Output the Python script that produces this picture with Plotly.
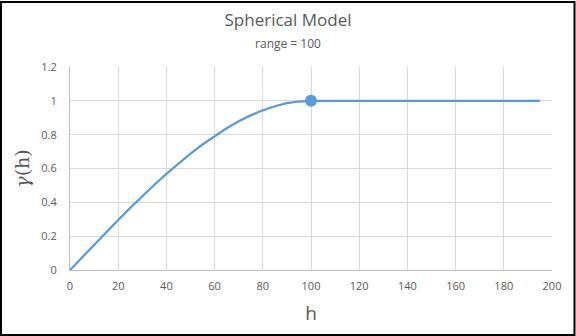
import plotly.graph_objects as go

# Spherical semivariogram, range = 100, sill = 1
lag_h = [0, 5, 10, 15, 20, 25, 30, 35, 40, 45, 50, 55, 60, 65, 70, 75, 80, 85, 90, 95, 100, 195]
gamma = [0, 0.075, 0.150, 0.223, 0.296, 0.367, 0.437, 0.504, 0.568, 0.629, 0.688, 0.742,
         0.792, 0.838, 0.879, 0.914, 0.944, 0.968, 0.986, 0.996, 1.0, 1.0]

range_h = [100]
range_gamma = [1.0]

x_ticks = [0, 20, 40, 60, 80, 100, 120, 140, 160, 180, 200]
y_ticks = [0, 0.2, 0.4, 0.6, 0.8, 1, 1.2]
y_tick_text = ["0", "0.2", "0.4", "0.6", "0.8", "1", "1.2"]

W, H = 576, 336
ML, MR, MT, MB = 70, 24, 67, 66
pw, ph = W - ML - MR, H - MT - MB

blue = "#5B9BD5"
txt = "#595959"

fig = go.Figure()
fig.add_trace(go.Scatter(x=lag_h, y=gamma, mode="lines",
                         line=dict(color=blue, width=2.25), hoverinfo="skip"))
fig.add_trace(go.Scatter(x=range_h, y=range_gamma, mode="markers",
                         marker=dict(color=blue, size=12), hoverinfo="skip"))

fig.update_layout(
    width=W, height=H,
    margin=dict(l=ML, r=MR, t=MT, b=MB),
    paper_bgcolor="white", plot_bgcolor="white",
    showlegend=False,
    font=dict(family="Open Sans, Noto Sans, sans-serif", color=txt),
    title=dict(
        text="Spherical Model<br><span style='font-size:12px'>range = 100</span>",
        x=0.5, xanchor="center", y=1 - 26 / H, yanchor="top",
        font=dict(size=17, color=txt),
    ),
    xaxis=dict(
        range=[0, 200], tickvals=x_ticks, showgrid=True, gridcolor="#D9D9D9",
        gridwidth=1, zeroline=False, showline=True, linecolor="#BFBFBF",
        linewidth=1, ticks="", ticklabelstandoff=6, tickfont=dict(size=11, color=txt),
        title=dict(text="h", font=dict(size=19, color=txt), standoff=14),
    ),
    yaxis=dict(
        range=[0, 1.2], tickvals=y_ticks, ticktext=y_tick_text, showgrid=True,
        gridcolor="#D9D9D9", gridwidth=1, zeroline=False, showline=True,
        linecolor="#BFBFBF", linewidth=1, ticks="", ticklabelstandoff=10,
        tickfont=dict(size=11, color=txt),
        title=dict(text="<i>γ</i>(h)", font=dict(size=19, color=txt,
                   family="DejaVu Serif, serif"), standoff=6),
    ),
    shapes=[dict(
        type="rect", xref="paper", yref="paper",
        x0=(1 - ML) / pw, x1=(W - 1.5 - ML) / pw,
        y0=-(H - 1 - MT - ph) / ph, y1=(H - 1 - MT) / ph,
        line=dict(color="black", width=2), fillcolor="rgba(0,0,0,0)", layer="above",
    )],
)

fig.write_html("out.html")
